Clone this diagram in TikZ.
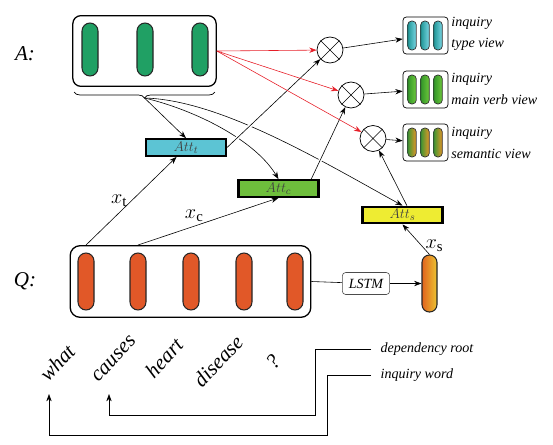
\documentclass[tikz,border=0pt]{standalone}
\usepackage{fontspec}
\setmainfont{Liberation Serif}
\usetikzlibrary{positioning,arrows.meta,decorations.pathreplacing}

\definecolor{agreen}{RGB}{32,160,100}
\definecolor{qorange}{RGB}{225,88,40}
\definecolor{attcyan}{RGB}{92,196,212}
\definecolor{attgreen}{RGB}{110,190,60}
\definecolor{attyellow}{RGB}{238,236,50}
\definecolor{redline}{RGB}{230,30,40}

\begin{document}
\begin{tikzpicture}[x=0.03cm, y=-0.03cm,
  pill/.style={draw=black!85, line width=0.9pt, rounded corners=0.24cm, minimum width=0.48cm, inner sep=0pt},
  mini/.style={draw=black!80, line width=0.6pt, rounded corners=0.12cm, minimum width=0.26cm, minimum height=0.87cm, inner sep=0pt},
  listbox/.style={draw, line width=1.1pt, inner sep=0pt},
  att/.style={draw, line width=1.8pt, minimum width=2.4cm, minimum height=0.5cm, inner sep=0pt, text=black!75, font=\fontsize{13}{13}\selectfont},
  otimes/.style={circle, draw, line width=0.6pt, minimum size=0.78cm, inner sep=0pt},
  inq/.style={draw, line width=0.6pt, rounded corners=0.1cm, minimum width=1.35cm, minimum height=1.11cm},
  view/.style={anchor=west, align=left, inner sep=1pt, font=\fontsize{12}{18.5}\selectfont\itshape},
  word/.style={rotate=47, font=\fontsize{18}{18}\selectfont\itshape},
  big/.style={font=\fontsize{18}{18}\selectfont},
  arr/.style={-{Stealth[length=2.2mm, width=1.6mm]}, line width=0.5pt},
  redarr/.style={arr, draw=redline},
  hop/.style={preaction={draw=white, line width=3pt, shorten <=4pt, shorten >=6pt}}]
\useasboundingbox (0,0) rectangle (553,445);

\node[big] (alab) at (25,54) {\itshape A:};
\node[big] (qlab) at (25,281) {\itshape Q:};

\node[listbox, rounded corners=0.24cm, minimum width=4.3cm, minimum height=2.12cm] (abox) at (144.5,51) {};
\node[pill, fill=agreen, minimum height=1.59cm] (a1) at (90,49.5) {};
\node[pill, fill=agreen, minimum height=1.59cm] (a2) at (145,49.5) {};
\node[pill, fill=agreen, minimum height=1.59cm] (a3) at (200,49.5) {};
\draw[line width=0.6pt, decorate, decoration={brace, mirror, amplitude=0.18cm}] (74,92) -- (215,92);
\coordinate (tip) at (144.5,98);

\node[listbox, rounded corners=0.3cm, minimum width=7.22cm, minimum height=2.15cm] (qbox) at (190.5,281.5) {};
\foreach \x [count=\i] in {86,138,191,244,295}
  \node[pill, fill=qorange, minimum height=1.71cm] (q\i) at (\x,281.5) {};

\node[draw=black!70, line width=0.5pt, rounded corners=0.1cm, minimum width=1.42cm, minimum height=0.66cm, inner sep=0pt, font=\fontsize{12}{12}\selectfont\itshape] (lstm) at (366,283.5) {LSTM};
\node[pill, rounded corners=0.22cm, minimum width=0.45cm, minimum height=1.71cm, left color={rgb,255:red,225;green,100;blue,30}, right color={rgb,255:red,236;green,196;blue,50}] (ps) at (429.5,283.5) {};

\node[att, fill=attcyan] (attt) at (186,147.5) {$Att_t$};
\node[att, fill=attgreen] (attc) at (278.5,188.5) {$Att_c$};
\node[att, fill=attyellow] (atts) at (402.5,215) {$Att_s$};

\node[otimes] (o1) at (330,50) {};
\node[otimes] (o2) at (351,95) {};
\node[otimes] (o3) at (373,138.5) {};
\foreach \o in {o1,o2,o3}
  \draw[line width=0.5pt] (\o.north east) -- (\o.south west) (\o.north west) -- (\o.south east);

\node[inq] (inq1) at (425.5,35.5) {};
\node[inq] (inq2) at (425.5,89.5) {};
\node[inq] (inq3) at (425.5,142.5) {};
\foreach \x in {412,425,438} {
  \node[mini, left color={rgb,255:red,30;green,150;blue,150}, right color={rgb,255:red,125;green,215;blue,228}] (ia\x) at (\x,35.5) {};
  \node[mini, left color={rgb,255:red,50;green,150;blue,40}, right color={rgb,255:red,110;green,200;blue,60}] (ib\x) at (\x,89.5) {};
  \node[mini, left color={rgb,255:red,60;green,150;blue,50}, right color={rgb,255:red,230;green,150;blue,40}] (ic\x) at (\x,142.5) {};
}
\node[view] (lab1) at (450,34) {inquiry\\type view};
\node[view] (lab2) at (450,89) {inquiry\\main verb view};
\node[view] (lab3) at (450,143) {inquiry\\semantic view};

\draw[arr] (tip) -- (attt.north);
\draw[arr] (tip) .. controls (195,110) and (255,140) .. (attc.north);
\draw[arr] (tip) .. controls (220,100) and (320,160) .. (atts.north);

\draw[arr, hop] (attt.east) -- (o1);
\draw[arr, hop] (attc.16) -- (o2);
\draw[arr] (atts.65) -- (o3);

\draw[redarr] (abox.east) -- (o1);
\draw[redarr] (abox.east) -- (o2);
\draw[redarr] (abox.east) -- (o3);

\draw[arr] (o1) -- (inq1);
\draw[arr] (o2) -- (inq2);
\draw[arr] (o3) -- (inq3);

\draw[arr] (q1 |- qbox.north) -- node[midway, left, big] {$x_{\mathrm{t}}$} (attt.225);
\draw[arr] (q2 |- qbox.north) -- node[pos=0.4, above, big] {$x_{\mathrm{c}}$} (attc.south);
\draw[arr] (ps.north) -- node[pos=0.3, right, big] {$x_{\mathrm{s}}$} (atts.south);
\draw[line width=0.5pt] (qbox.east) -- (lstm);
\draw[arr] (lstm) -- (ps);

\node[word] (w1) at (57,363) {what};
\node[word] (w2) at (114,359) {causes};
\node[word] (w3) at (164,358) {heart};
\node[word] (w4) at (218,361) {disease};
\node[word] (w5) at (273,362) {?};

\node[view, inner xsep=8pt] (dep) at (371,349) {dependency root};
\node[view, inner xsep=8pt] (iw) at (371,375) {inquiry word};
\coordinate (cauarr) at (109,394);
\coordinate (wharr) at (49,394);
\draw[arr] (dep.west) -- (315,349) |- (109,415) -- (cauarr);
\draw[arr] (iw.west) -- (327,375) |- (49,435) -- (wharr);
\end{tikzpicture}
\end{document}
